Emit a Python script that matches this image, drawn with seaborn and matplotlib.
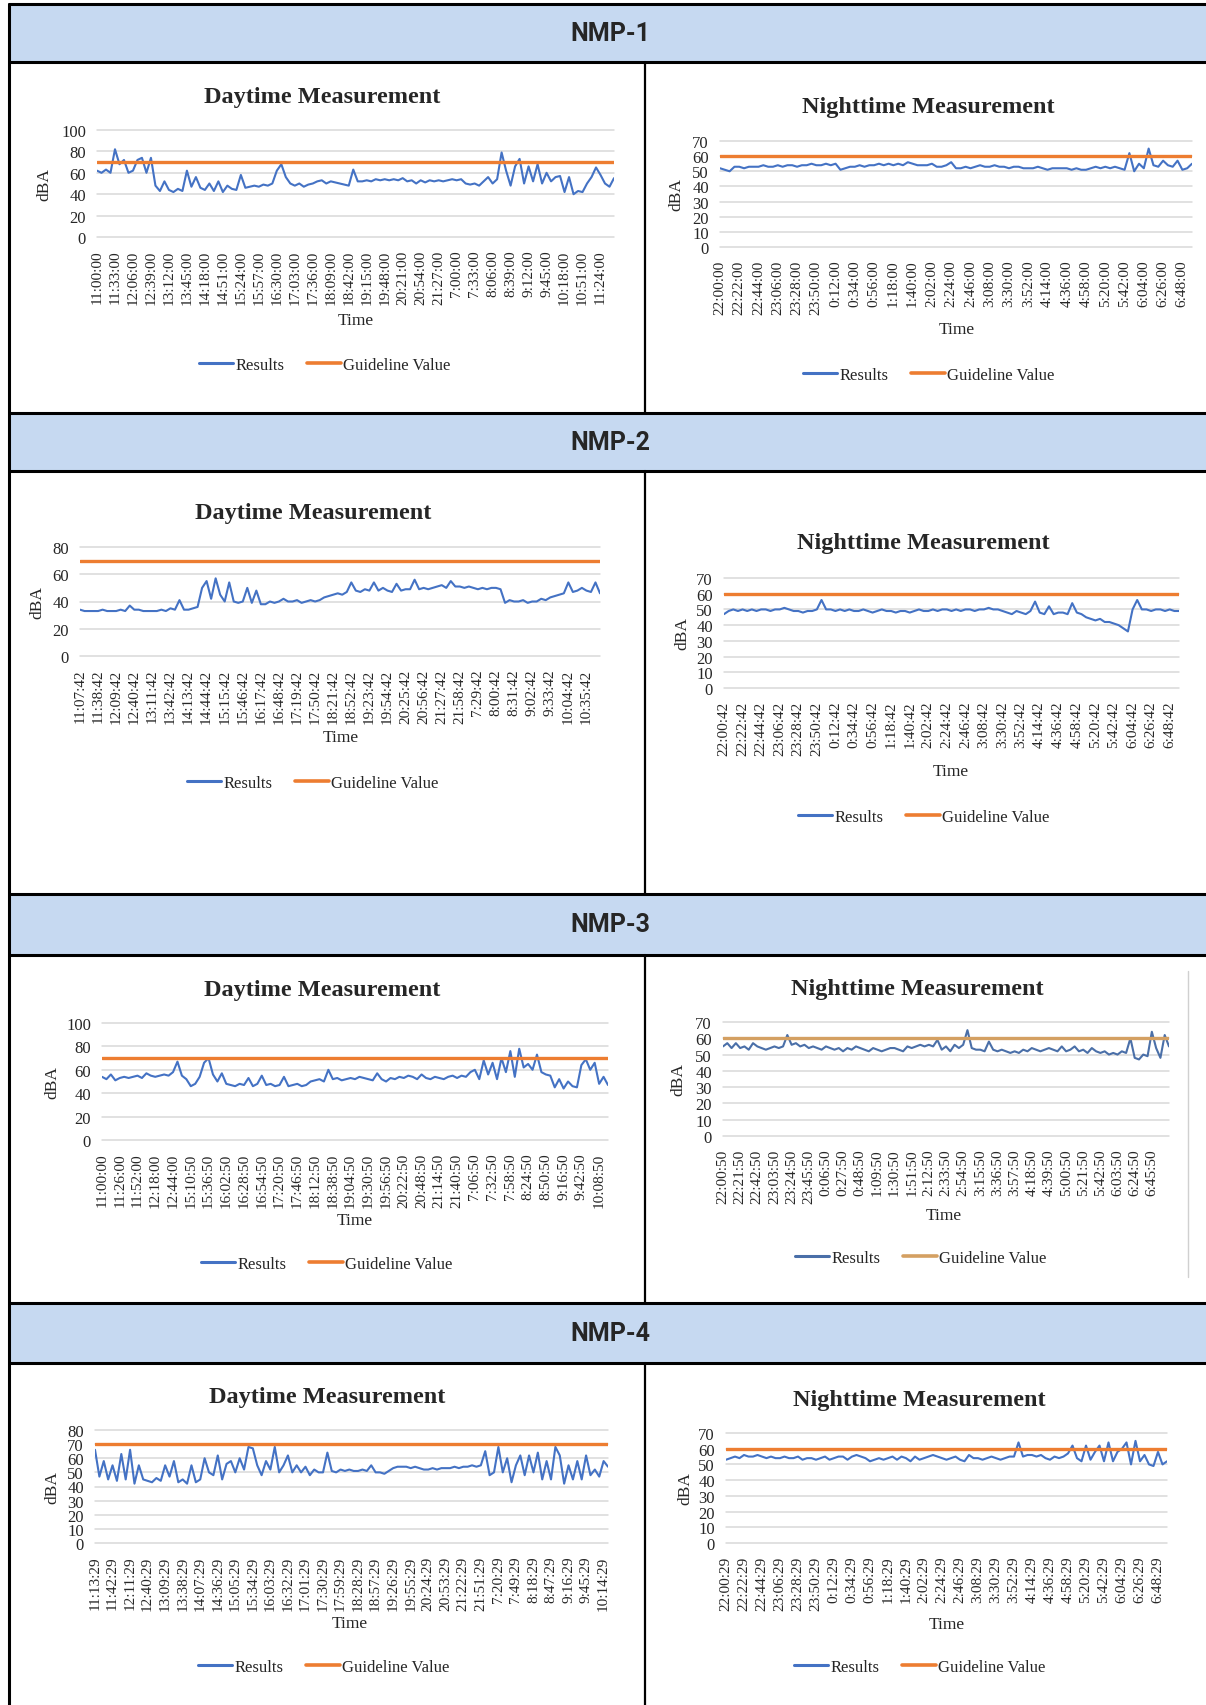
"""
Noise monitoring points NMP-1..NMP-4, daytime / nighttime charts
"""

import numpy as np
import seaborn as sns
import matplotlib
matplotlib.use("Agg")
import matplotlib.pyplot as plt
from matplotlib.patches import Rectangle
from matplotlib.lines import Line2D

#-----------------------------------
#Data:
day_guideline = 70
night_guideline = 60

day1_ticks = ["11:00:00", "11:33:00", "12:06:00", "12:39:00", "13:12:00", "13:45:00", "14:18:00",
              "14:51:00", "15:24:00", "15:57:00", "16:30:00", "17:03:00", "17:36:00", "18:09:00",
              "18:42:00", "19:15:00", "19:48:00", "20:21:00", "20:54:00", "21:27:00", "7:00:00",
              "7:33:00", "8:06:00", "8:39:00", "9:12:00", "9:45:00", "10:18:00", "10:51:00", "11:24:00"]
day1_results = [62, 60, 63, 60, 82, 68, 72, 60, 62, 72, 74, 60, 74, 48, 43, 52, 44, 42, 45, 43,
                62, 47, 56, 46, 44, 50, 43, 52, 42, 48, 45, 44, 58, 46, 47, 48, 47, 49, 48, 50,
                62, 68, 56, 50, 48, 50, 47, 49, 50, 52, 53, 50, 52, 51, 50, 49, 48, 63, 52, 52,
                53, 52, 54, 53, 54, 53, 54, 53, 55, 52, 53, 50, 53, 51, 53, 52, 53, 52, 53, 54,
                53, 54, 50, 49, 50, 48, 52, 56, 50, 54, 79, 62, 48, 66, 73, 50, 66, 52, 68, 50,
                60, 52, 56, 57, 42, 56, 40, 43, 42, 50, 56, 65, 58, 50, 47, 55]

night_hhmm = ["22:00", "22:22", "22:44", "23:06", "23:28", "23:50", "0:12", "0:34", "0:56", "1:18",
              "1:40", "2:02", "2:24", "2:46", "3:08", "3:30", "3:52", "4:14", "4:36", "4:58",
              "5:20", "5:42", "6:04", "6:26", "6:48"]

night1_ticks = [t + ":00" for t in night_hhmm]
night1_results = [52, 51, 50, 53, 53, 52, 53, 53, 53, 54, 53, 53, 54, 53, 54, 54, 53, 54, 54, 55,
                  54, 54, 55, 54, 55, 51, 52, 53, 53, 54, 53, 54, 54, 55, 54, 55, 54, 55, 54, 56,
                  55, 54, 54, 54, 55, 53, 53, 54, 56, 52, 52, 53, 52, 53, 54, 53, 53, 54, 53, 53,
                  52, 53, 53, 52, 52, 52, 53, 52, 51, 52, 52, 52, 52, 51, 52, 51, 51, 52, 53, 52,
                  53, 52, 53, 52, 51, 62, 50, 55, 52, 65, 54, 53, 57, 54, 53, 57, 51, 52, 55]

day2_ticks = ["11:07:42", "11:38:42", "12:09:42", "12:40:42", "13:11:42", "13:42:42", "14:13:42",
              "14:44:42", "15:15:42", "15:46:42", "16:17:42", "16:48:42", "17:19:42", "17:50:42",
              "18:21:42", "18:52:42", "19:23:42", "19:54:42", "20:25:42", "20:56:42", "21:27:42",
              "21:58:42", "7:29:42", "8:00:42", "8:31:42", "9:02:42", "9:33:42", "10:04:42", "10:35:42"]
day2_results = [34, 33, 33, 33, 33, 34, 33, 33, 33, 34, 33, 37, 34, 34, 33, 33, 33, 33, 34, 33,
                35, 34, 41, 34, 34, 35, 36, 50, 55, 42, 57, 45, 40, 54, 40, 39, 40, 50, 39, 48,
                38, 38, 40, 39, 40, 42, 40, 40, 41, 39, 40, 41, 40, 41, 43, 44, 45, 46, 45, 47,
                54, 48, 47, 49, 48, 54, 48, 50, 48, 47, 53, 48, 49, 49, 56, 49, 50, 49, 50, 51,
                52, 50, 55, 51, 51, 50, 51, 50, 49, 50, 49, 50, 50, 49, 39, 41, 40, 40, 41, 39,
                40, 40, 42, 41, 43, 44, 45, 46, 54, 47, 48, 50, 48, 47, 54, 46]

night2_ticks = [t + ":42" for t in night_hhmm]
night2_results = [47, 49, 50, 49, 50, 49, 50, 49, 50, 50, 49, 50, 50, 51, 50, 49, 49, 48, 49, 49,
                  50, 56, 50, 50, 49, 50, 49, 50, 49, 49, 50, 49, 48, 49, 50, 49, 49, 48, 49, 49,
                  48, 49, 50, 49, 49, 50, 49, 50, 50, 49, 50, 49, 50, 50, 49, 50, 50, 51, 50, 50,
                  49, 48, 47, 49, 48, 47, 49, 55, 48, 47, 52, 47, 48, 48, 47, 54, 48, 47, 45, 44,
                  43, 44, 42, 42, 41, 40, 38, 36, 50, 56, 50, 50, 49, 50, 50, 49, 50, 49, 49]

day3_ticks = ["11:00:00", "11:26:00", "11:52:00", "12:18:00", "12:44:00", "15:10:50", "15:36:50",
              "16:02:50", "16:28:50", "16:54:50", "17:20:50", "17:46:50", "18:12:50", "18:38:50",
              "19:04:50", "19:30:50", "19:56:50", "20:22:50", "20:48:50", "21:14:50", "21:40:50",
              "7:06:50", "7:32:50", "7:58:50", "8:24:50", "8:50:50", "9:16:50", "9:42:50", "10:08:50"]
day3_results = [54, 52, 56, 51, 53, 54, 53, 54, 55, 53, 57, 55, 54, 55, 56, 55, 58, 67, 55, 52,
                46, 48, 54, 66, 70, 56, 50, 57, 48, 47, 46, 48, 47, 53, 46, 48, 55, 47, 48, 46,
                47, 54, 46, 47, 48, 46, 47, 50, 51, 52, 50, 60, 52, 53, 51, 52, 53, 52, 54, 53,
                52, 51, 57, 52, 50, 53, 52, 54, 53, 55, 54, 52, 56, 53, 52, 54, 53, 52, 54, 55,
                53, 55, 54, 58, 60, 52, 68, 56, 66, 52, 70, 58, 76, 54, 78, 62, 65, 60, 73, 58,
                56, 55, 45, 52, 44, 50, 46, 45, 64, 69, 60, 66, 48, 54, 47]

night3_ticks = ["22:00:50", "22:21:50", "22:42:50", "23:03:50", "23:24:50", "23:45:50", "0:06:50",
                "0:27:50", "0:48:50", "1:09:50", "1:30:50", "1:51:50", "2:12:50", "2:33:50",
                "2:54:50", "3:15:50", "3:36:50", "3:57:50", "4:18:50", "4:39:50", "5:00:50",
                "5:21:50", "5:42:50", "6:03:50", "6:24:50", "6:45:50"]
night3_results = [55, 57, 54, 57, 54, 55, 53, 57, 55, 54, 53, 54, 55, 54, 55, 62, 56, 57, 55, 56,
                  54, 55, 54, 53, 55, 54, 53, 54, 52, 54, 53, 55, 54, 53, 52, 54, 53, 52, 53, 54,
                  54, 53, 52, 55, 54, 55, 56, 55, 56, 55, 59, 53, 55, 52, 56, 54, 56, 65, 54, 53,
                  53, 52, 58, 53, 52, 53, 52, 51, 52, 51, 53, 52, 54, 53, 52, 53, 54, 53, 52, 55,
                  52, 53, 55, 52, 53, 51, 54, 52, 51, 52, 50, 51, 50, 52, 51, 60, 48, 47, 50, 49,
                  64, 54, 48, 62, 55]

day4_ticks = ["11:13:29", "11:42:29", "12:11:29", "12:40:29", "13:09:29", "13:38:29", "14:07:29",
              "14:36:29", "15:05:29", "15:34:29", "16:03:29", "16:32:29", "17:01:29", "17:30:29",
              "17:59:29", "18:28:29", "18:57:29", "19:26:29", "19:55:29", "20:24:29", "20:53:29",
              "21:22:29", "21:51:29", "7:20:29", "7:49:29", "8:18:29", "8:47:29", "9:16:29",
              "9:45:29", "10:14:29"]
day4_results = [66, 47, 58, 45, 55, 44, 63, 45, 66, 42, 55, 45, 44, 43, 46, 44, 55, 47, 58, 43,
                45, 42, 55, 43, 45, 60, 50, 48, 62, 45, 56, 58, 50, 60, 52, 68, 67, 55, 48, 58,
                52, 68, 50, 55, 62, 50, 55, 50, 54, 48, 52, 50, 50, 64, 51, 50, 52, 51, 52, 51,
                51, 52, 51, 55, 50, 50, 49, 51, 53, 54, 54, 54, 53, 54, 53, 52, 52, 53, 52, 53,
                53, 53, 54, 53, 54, 54, 55, 54, 55, 65, 48, 50, 68, 50, 60, 43, 55, 62, 48, 62,
                50, 64, 45, 58, 45, 68, 62, 42, 55, 45, 58, 45, 62, 48, 52, 47, 58, 54]

night4_ticks = [t + ":29" for t in night_hhmm]
night4_results = [53, 54, 55, 54, 56, 55, 55, 56, 55, 54, 55, 54, 54, 55, 54, 54, 55, 53, 54, 54,
                  53, 54, 55, 53, 54, 55, 55, 53, 55, 56, 55, 54, 52, 53, 54, 53, 54, 55, 53, 55,
                  54, 52, 55, 53, 54, 55, 56, 55, 54, 53, 54, 55, 53, 52, 56, 54, 54, 53, 54, 55,
                  54, 53, 54, 55, 55, 64, 55, 56, 56, 55, 56, 54, 53, 55, 54, 55, 57, 62, 54, 52,
                  62, 53, 58, 62, 52, 64, 52, 58, 60, 64, 50, 65, 52, 56, 50, 49, 58, 50, 52]

#-----------------------------------
#Style:
W, H = 1206, 1706
BLUE = "#4472C4"
ORANGE = "#ED7D31"
HEADER = "#C6D9F1"
STEP = 4  # data points between two category labels

sns.set_style("white")
plt.rcParams["font.family"] = ["Liberation Serif", "DejaVu Serif"]

fig = plt.figure(figsize=(W / 100, H / 100), dpi=100)


def fx(px):
    return px / W


def fy(py):
    return 1 - py / H


def hline(y, x0, x1, lw=2.2, color="black"):
    fig.add_artist(Line2D([fx(x0), fx(x1)], [fy(y), fy(y)], transform=fig.transFigure,
                          color=color, lw=lw))


def vline(x, y0, y1, lw=1.6, color="black"):
    fig.add_artist(Line2D([fx(x), fx(x)], [fy(y0), fy(y1)], transform=fig.transFigure,
                          color=color, lw=lw))


#-----------------------------------
#Frame with the NMP headers:
headers = [(5, 63, "NMP-1"), (414, 472, "NMP-2"), (895, 956, "NMP-3"), (1304, 1364, "NMP-4")]
for top, bot, name in headers:
    fig.add_artist(Rectangle((fx(9), fy(bot)), 1 - fx(9), fy(top) - fy(bot),
                             transform=fig.transFigure, facecolor=HEADER, edgecolor="none"))
    fig.text(fx(610), fy((top + bot) / 2), name, ha="center", va="center", fontsize=18,
             fontweight="bold", family=["Roboto", "DejaVu Sans"])
    hline(top, 9, W)
    hline(bot, 9, W)

vline(9, 5, H, lw=2.2)
for y0, y1 in [(63, 414), (472, 895), (956, 1304), (1364, H)]:
    vline(645, y0, y1)
vline(1188, 972, 1278, lw=1.0, color="#D0D0D0")


#-----------------------------------
#Charts:
def draw_panel(p):
    l, r, t, b = p["box"]
    ax = fig.add_axes([fx(l), fy(b), (r - l) / W, (b - t) / H])
    vals = p["values"]
    idx = np.arange(len(vals))
    c1 = p.get("c1", BLUE)
    c2 = p.get("c2", ORANGE)

    sns.lineplot(x=idx, y=vals, ax=ax, color=c1, lw=1.5, legend=False)
    ax.axhline(p["guide"], color=c2, lw=2.4)

    ax.set_xlim(0, len(vals) - 1)
    ax.set_ylim(0, p["ytop"])
    ax.set_yticks(np.arange(0, p["ytop"] + 1, p["ystep"]))
    ax.set_xticks(idx[::STEP][:len(p["ticks"])])
    ax.set_xticklabels(p["ticks"], rotation=90)
    ax.tick_params(length=0, labelsize=12)
    ax.tick_params(axis="x", pad=9, labelsize=11)
    ax.tick_params(axis="y", pad=8)
    ax.set_xlabel("")
    ax.set_ylabel("")
    ax.grid(axis="y", color="#D9D9D9", lw=1.1)
    ax.set_axisbelow(True)
    for gl in ax.get_ygridlines():
        gl.set_clip_on(False)
    for s in ax.spines.values():
        s.set_visible(False)

    tx, ty = p["title_xy"]
    fig.text(fx(tx), fy(ty), p["title"], ha="center", va="center", fontsize=17.5,
             fontweight="bold")
    fig.text(fx(p["dba_x"]), fy((t + b) / 2), "dBA", rotation=90, ha="center",
             va="center", fontsize=12.5)
    mx, my = p["time_xy"]
    fig.text(fx(mx), fy(my), "Time", ha="center", va="center", fontsize=12.5)

    handles = [Line2D([], [], color=c1, lw=2.2), Line2D([], [], color=c2, lw=2.6)]
    lx, ly = p["leg_xy"]
    fig.legend(handles, ["Results", "Guideline Value"], loc="center",
               bbox_to_anchor=(fx(lx), fy(ly)), ncol=2, frameon=False, fontsize=12,
               handlelength=2.0, handletextpad=0.15, columnspacing=1.4)


day_title = "Daytime Measurement"
night_title = "Nighttime Measurement"

panels = [
    dict(values=day1_results, ticks=day1_ticks, guide=day_guideline, ytop=100, ystep=20,
         title=day_title, box=(97, 614, 131, 238), title_xy=(322, 97), time_xy=(356, 321),
         leg_xy=(325, 366), dba_x=44),
    dict(values=night1_results, ticks=night1_ticks, guide=night_guideline, ytop=70, ystep=10,
         title=night_title, box=(720, 1192, 142, 248), title_xy=(928, 108), time_xy=(957, 330),
         leg_xy=(929, 376), dba_x=676),
    dict(values=day2_results, ticks=day2_ticks, guide=day_guideline, ytop=80, ystep=20,
         title=day_title, box=(80, 600, 548, 657), title_xy=(313, 513), time_xy=(341, 738),
         leg_xy=(313, 784), dba_x=37),
    dict(values=night2_results, ticks=night2_ticks, guide=night_guideline, ytop=70, ystep=10,
         title=night_title, box=(724, 1179, 579, 689), title_xy=(923, 544), time_xy=(951, 772),
         leg_xy=(924, 818), dba_x=682),
    dict(values=day3_results, ticks=day3_ticks, guide=day_guideline, ytop=100, ystep=20,
         title=day_title, box=(102, 608, 1024, 1141), title_xy=(322, 991), time_xy=(355, 1221),
         leg_xy=(327, 1265), dba_x=52),
    dict(values=night3_results, ticks=night3_ticks, guide=night_guideline, ytop=70, ystep=10,
         title=night_title, box=(723, 1169, 1023, 1137), title_xy=(917, 990),
         time_xy=(944, 1216), leg_xy=(921, 1259), dba_x=678, c1="#4A6FA8", c2="#D4A062"),
    dict(values=day4_results, ticks=day4_ticks, guide=day_guideline, ytop=80, ystep=10,
         title=day_title, box=(95, 608, 1431, 1544), title_xy=(327, 1398), time_xy=(350, 1624),
         leg_xy=(324, 1668), dba_x=52),
    dict(values=night4_results, ticks=night4_ticks, guide=night_guideline, ytop=70, ystep=10,
         title=night_title, box=(726, 1167, 1434, 1544), title_xy=(919, 1401),
         time_xy=(947, 1625), leg_xy=(920, 1668), dba_x=685),
]

for p in panels:
    draw_panel(p)

fig.savefig("out.png", dpi=100)
